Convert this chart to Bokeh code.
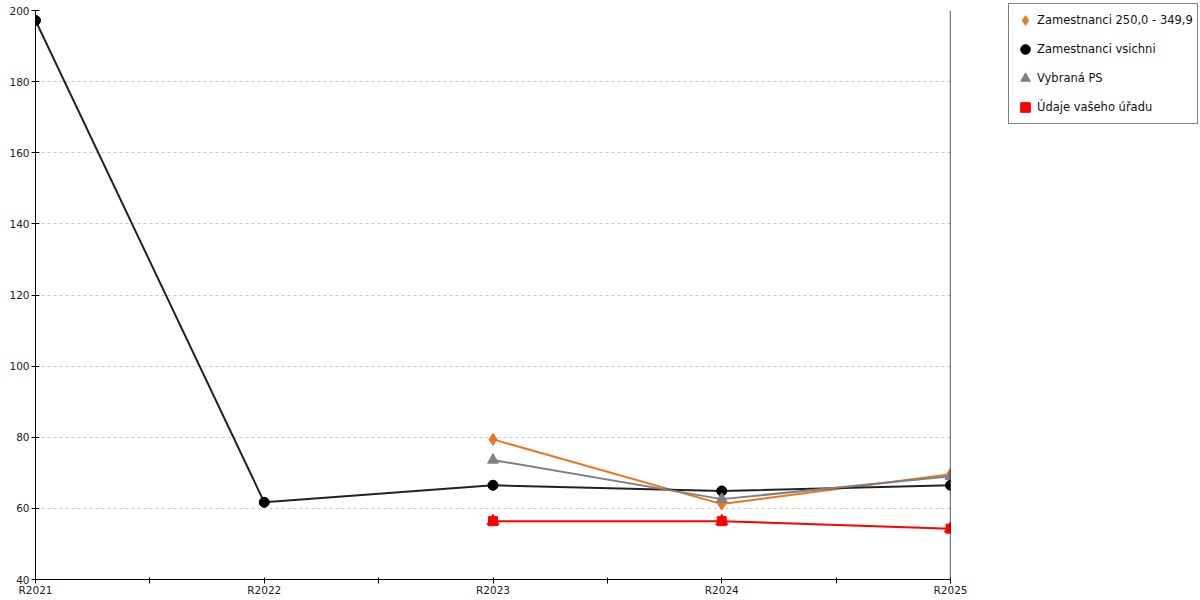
import numpy as np
from bokeh.plotting import figure
from bokeh.models import (Legend, LegendItem, FixedTicker, Span, ColumnDataSource)
from bokeh.embed import file_html
from bokeh.resources import INLINE

categories = ["R2021", "R2022", "R2023", "R2024", "R2025"]
zam_250 = [None, None, 79.4, 61.2, 69.6]
zam_all = [197.2, 61.7, 66.5, 64.9, 66.5]
vybrana_ps = [None, None, 73.6, 62.6, 69.0]
udaje_uradu = [None, None, 56.4, 56.4, 54.3]
y_ticks = [40, 60, 80, 100, 120, 140, 160, 180, 200]

names = ["Zamestnanci 250,0 - 349,9", "Zamestnanci vsichni", "Vybraná PS", "Údaje vašeho úřadu"]
colors = ["#e8771e", "#000000", "#808080", "#ff0000"]
line_colors = ["#e8771e", "#222222", "#808080", "#ff0000"]

FONT = "DejaVu Sans"

def arr(v):
    return np.array([np.nan if a is None else a for a in v], dtype=float)

xs = np.arange(len(categories), dtype=float)

p = figure(frame_width=915, frame_height=569, output_backend="svg", toolbar_location=None,
           x_range=(0, len(categories) - 1), y_range=(y_ticks[0], y_ticks[-1]),
           min_border_left=35, min_border_right=249, min_border_top=10, min_border_bottom=18)
p.outline_line_color = None
p.background_fill_color = "white"
p.border_fill_color = "white"

# axes
p.xaxis.ticker = FixedTicker(ticks=list(xs), minor_ticks=list(xs[:-1] + 0.5))
p.xaxis.major_label_overrides = {i: c for i, c in enumerate(categories)}
p.xaxis.major_tick_in = 2
p.xaxis.major_tick_out = 4
p.xaxis.minor_tick_in = 2
p.xaxis.minor_tick_out = 4
p.xaxis.major_label_standoff = 0
p.yaxis.ticker = FixedTicker(ticks=y_ticks)
p.yaxis.major_tick_in = 4
p.yaxis.major_tick_out = 4
p.yaxis.minor_tick_in = 0
p.yaxis.minor_tick_out = 0
p.yaxis.major_label_standoff = 2
for ax in (p.xaxis, p.yaxis):
    ax.axis_line_color = "black"
    ax.major_tick_line_color = "black"
    ax.minor_tick_line_color = "black"
    ax.major_label_text_font = FONT
    ax.major_label_text_font_size = "10.5px"
    ax.major_label_text_color = "#222222"

p.add_layout(Span(location=xs[-1], dimension="height", line_color="black", line_width=1.3))

p.xgrid.grid_line_color = None
p.ygrid.grid_line_color = "#c8c8c8"
p.ygrid.grid_line_dash = "3 3"
p.ygrid.grid_line_width = 1

items = []
series = [zam_250, zam_all, vybrana_ps, udaje_uradu]
for i, (name, vals) in enumerate(zip(names, series)):
    src = ColumnDataSource(dict(x=xs, y=arr(vals)))
    p.line("x", "y", source=src, line_color=line_colors[i], line_width=2)
    if i == 0:
        r = [p.scatter("x", "y", source=src, marker="diamond", size=12,
                       fill_color=colors[i], line_color=colors[i])]
    elif i == 1:
        r = [p.scatter("x", "y", source=src, marker="circle", size=10,
                       fill_color=colors[i], line_color=colors[i])]
    elif i == 2:
        r = [p.scatter("x", "y", source=src, marker="triangle", size=11,
                       fill_color=colors[i], line_color=colors[i])]
    else:
        r = [p.scatter("x", "y", source=src, marker="square", size=9,
                       fill_color=colors[i], line_color=colors[i]),
             p.scatter("x", "y", source=src, marker="triangle", size=12,
                       fill_color=colors[i], line_color=colors[i])]
    items.append(LegendItem(label=name, renderers=r))

legend = Legend(items=items, location=(58, 455))
legend.border_line_color = "black"
legend.border_line_width = 1
legend.background_fill_color = "white"
legend.background_fill_alpha = 1
legend.label_text_font = FONT
legend.label_text_font_size = "11.5px"
legend.label_text_color = "#111111"
legend.padding = 4
legend.spacing = 5
legend.label_height = 24
legend.glyph_height = 24
legend.glyph_width = 24
legend.label_standoff = 0
legend.margin = 0
p.add_layout(legend, "right")

open("out.html", "w").write(file_html(p, INLINE))
